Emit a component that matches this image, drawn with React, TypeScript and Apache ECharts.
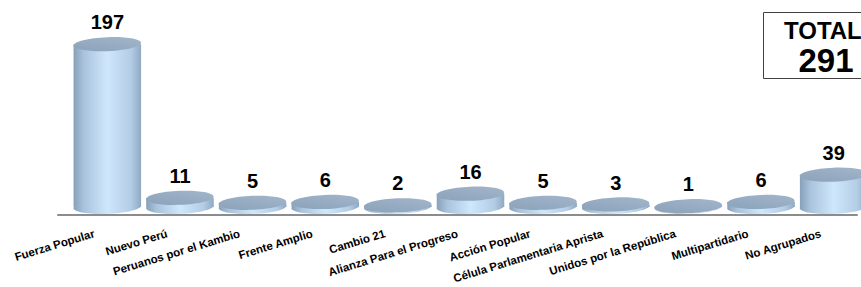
import React, { useEffect, useRef } from "react";
import * as echarts from "echarts";

const categories = [
  "Fuerza Popular",
  "Nuevo Perú",
  "Peruanos por el Kambio",
  "Frente Amplio",
  "Cambio 21",
  "Alianza Para el Progreso",
  "Acción Popular",
  "Célula Parlamentaria Aprista",
  "Unidos por la República",
  "Multipartidario",
  "No Agrupados",
];
const seats = [197, 11, 5, 6, 2, 16, 5, 3, 1, 6, 39];
const totalLabel = "TOTAL";
const totalValue = 291;

const FONT = "Arial, 'Liberation Sans', sans-serif";

export default function App() {
  const ref = useRef<HTMLDivElement>(null);
  useEffect(() => {
    if (!ref.current) return;
    const chart = echarts.init(ref.current, null, { renderer: "svg" });
    const bodyGrad = () =>
      new echarts.graphic.LinearGradient(0, 0, 1, 0, [
        { offset: 0, color: "#88a0b9" },
        { offset: 0.15, color: "#a9c3dc" },
        { offset: 0.5, color: "#cfe7fc" },
        { offset: 0.85, color: "#b3cde6" },
        { offset: 1, color: "#90a9c3" },
      ]);
    const topGrad = () =>
      new echarts.graphic.LinearGradient(0, 1, 1, 0, [
        { offset: 0, color: "#8aa1b9" },
        { offset: 1, color: "#a3b7cb" },
      ]);
    const option: any = {
      animation: false,
      grid: { left: 58, right: 4, top: 15, bottom: 72, outerBoundsMode: "none", containLabel: false },
      xAxis: {
        type: "category",
        data: categories,
        axisTick: { show: false },
        axisLine: { lineStyle: { color: "#8c8c8c", width: 2 } },
        axisLabel: {
          rotate: 17,
          interval: 0,
          margin: 18,
          color: "#000",
          fontFamily: FONT,
          fontWeight: "bold",
          fontSize: 11.5,
        },
      },
      yAxis: { type: "value", min: 0, max: 242, show: false },
      series: [
        {
          type: "custom",
          data: seats.map((v, i) => [i, v]),
          clip: false,
          renderItem: (params: any, api: any) => {
            const i = api.value(0);
            const v = api.value(1);
            const base = api.coord([i, 0]);
            const top = api.coord([i, v]);
            const w = api.size([1, 0])[0] * 0.93;
            const rx = w / 2;
            const ry = 7;
            const cx = base[0] + 13;
            const yb = base[1] - 8;
            const yt = top[1] - 8;
            const tilt = 0.04;
            return {
              type: "group",
              children: [
                {
                  type: "ellipse",
                  shape: { cx, cy: yb, rx, ry },
                  rotation: tilt,
                  originX: cx,
                  originY: yb,
                  style: { fill: bodyGrad() },
                },
                {
                  type: "rect",
                  shape: { x: cx - rx, y: yt, width: rx * 2, height: yb - yt },
                  style: { fill: bodyGrad() },
                },
                {
                  type: "ellipse",
                  shape: { cx, cy: yt, rx, ry },
                  rotation: tilt,
                  originX: cx,
                  originY: yt,
                  style: { fill: topGrad() },
                },
                {
                  type: "text",
                  x: cx,
                  y: yt - ry - 5,
                  style: {
                    text: String(v),
                    textAlign: "center",
                    textVerticalAlign: "bottom",
                    font: `bold 20px ${FONT}`,
                    fill: "#000",
                  },
                },
              ],
            };
          },
        },
      ],
      graphic: [
        {
          type: "rect",
          shape: { x: 763.5, y: 12.5, width: 130, height: 66 },
          style: { fill: "#fff", stroke: "#404040", lineWidth: 1 },
        },
        {
          type: "text",
          x: 784,
          y: 30,
          style: {
            text: totalLabel,
            textAlign: "left",
            textVerticalAlign: "middle",
            font: `bold 24px ${FONT}`,
            fill: "#000",
          },
        },
        {
          type: "text",
          x: 826,
          y: 60,
          style: {
            text: String(totalValue),
            textAlign: "center",
            textVerticalAlign: "middle",
            font: `bold 33px ${FONT}`,
            fill: "#000",
          },
        },
      ],
    };
    chart.setOption(option);
    return () => chart.dispose();
  }, []);
  return (
    <div
      ref={ref}
      style={{ position: "fixed", left: 0, top: 0, width: 861, height: 287, background: "#fff" }}
    />
  );
}
